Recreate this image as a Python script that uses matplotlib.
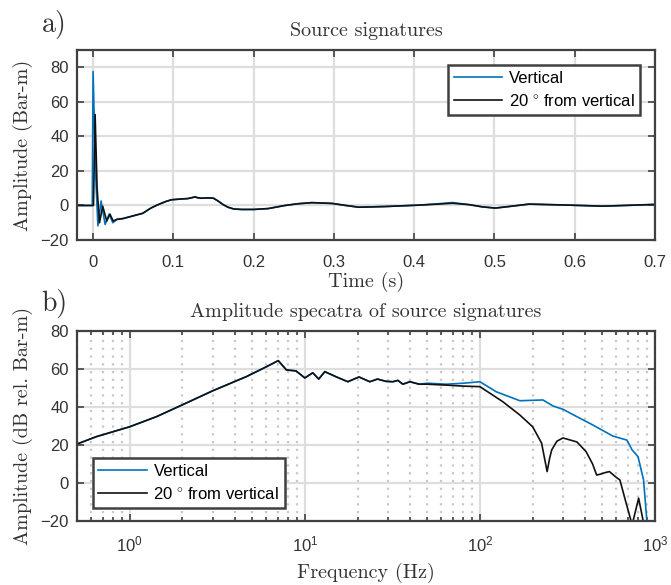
import numpy as np
import matplotlib
matplotlib.use('Agg')
import matplotlib.pyplot as plt

# source signatures (time domain)
t_vert = [-0.02, -0.001, 0.0, 0.003, 0.006, 0.01, 0.015, 0.02, 0.0246, 0.03, 0.037, 0.05,
          0.062, 0.072, 0.08, 0.09, 0.0975, 0.108, 0.118, 0.124, 0.127, 0.13, 0.135, 0.145,
          0.15, 0.156, 0.162, 0.168, 0.175, 0.185, 0.2, 0.218, 0.239, 0.255, 0.2725, 0.2975,
          0.315, 0.331, 0.364, 0.406, 0.43, 0.4475, 0.468, 0.485, 0.501, 0.52, 0.543, 0.593,
          0.635, 0.7]
a_vert = [0, 0, 77.5, 20, -11.8, 2.6, -11, -5, -10, -8, -7.6, -6,
          -4.5, -1.5, 0.3, 2.2, 3.3, 3.7, 4.0, 4.6, 5.0, 4.5, 4.2, 4.4,
          4.2, 2.5, 0.5, -1.0, -2.0, -2.3, -2.3, -1.8, 0, 1.0, 1.7, 1.2,
          0, -1, -0.6, 0.2, 1.0, 1.7, 0.5, -0.8, -1.5, -0.5, 0.8, 0.2,
          -0.4, 0.6]
t_20 = [-0.02, 0.0005, 0.0025, 0.005, 0.008, 0.012, 0.017, 0.021, 0.025, 0.03, 0.037, 0.05,
        0.062, 0.072, 0.08, 0.09, 0.0975, 0.108, 0.118, 0.124, 0.127, 0.13, 0.135, 0.145,
        0.15, 0.156, 0.162, 0.168, 0.175, 0.185, 0.2, 0.218, 0.239, 0.255, 0.2725, 0.2975,
        0.315, 0.331, 0.364, 0.406, 0.43, 0.4475, 0.468, 0.485, 0.501, 0.52, 0.543, 0.593,
        0.635, 0.7]
a_20 = [0, 0, 52.7, 10, -10, -0.4, -9, -5, -9, -8, -7.6, -6,
        -4.5, -1.5, 0.3, 2.2, 3.3, 3.7, 4.0, 4.6, 5.0, 4.5, 4.2, 4.4,
        4.2, 2.5, 0.5, -1.0, -2.0, -2.3, -2.3, -1.8, 0, 1.0, 1.6, 1.2,
        0, -1, -0.6, 0.2, 0.8, 1.3, 0.5, -0.8, -1.5, -0.5, 0.8, 0.2,
        -0.4, 0.6]

# amplitude spectra
f_vert = [0.5, 0.645, 1, 1.42, 1.93, 2.99, 4.64, 6.04, 7.05, 7.85, 8.9, 10, 11.1, 12, 13,
          15, 17.6, 20.4, 23.5, 26, 29, 31.8, 34, 36.3, 39.8, 45, 50, 64.5, 80, 100, 124,
          169, 229, 262, 298, 358, 442, 574, 690, 740, 800, 860, 900]
db_vert = [20.5, 24.4, 29.6, 34.9, 40.5, 48.6, 56, 61.2, 64.4, 59.5, 59, 55.3, 58, 54.7,
           58.6, 56, 53.3, 55.8, 53.3, 54.7, 53.5, 53.3, 54, 52, 53.3, 52, 52.5, 52, 52.5,
           53.3, 48, 43.3, 43.7, 40.5, 38.8, 34.9, 30.5, 24.7, 22.6, 17.4, 13.8, 1.6, -21]
f_20 = [0.5, 0.645, 1, 1.42, 1.93, 2.99, 4.64, 6.04, 7.05, 7.85, 8.9, 10, 11.1, 12, 13,
        15, 17.6, 20.4, 23.5, 26, 29, 31.8, 34, 36.3, 39.8, 45, 50, 64.5, 80, 100, 135,
        169, 200, 225, 235, 242, 250, 257, 275, 298, 358, 404, 440, 464, 490, 520, 549,
        600, 630, 684, 740, 806, 860, 880]
db_20 = [20.5, 24.4, 29.6, 34.9, 40.5, 48.6, 56, 61.2, 64.4, 59.5, 59, 55.3, 58, 54.7,
         58.6, 56, 53.3, 55.8, 53.3, 54.7, 53.5, 53.3, 54, 52, 53.3, 52, 52, 51.5, 51,
         50.7, 42.8, 35.8, 29.6, 21, 12, 6, 13, 17.4, 22, 23.7, 21.6, 16.5, 10, 4.2, 4.7,
         5.5, 6, 3, 1.6, -10.6, -22, -8, -21, -30]

blue = '#0072BD'
dark = '#404040'
serif = 'cmr10'

plt.rcParams['font.family'] = ['Liberation Sans', 'DejaVu Sans']
plt.rcParams['mathtext.fontset'] = 'custom'
plt.rcParams['mathtext.rm'] = 'Liberation Sans'
plt.rcParams['mathtext.it'] = 'Liberation Sans'

fig = plt.figure(figsize=(6.71, 5.85), dpi=100)
ax1 = fig.add_axes([0.1148, 0.5897, 0.8614, 0.3248])
ax2 = fig.add_axes([0.1148, 0.1094, 0.8614, 0.3248])


def style(ax):
    for s in ax.spines.values():
        s.set_color(dark)
        s.set_linewidth(1.6)
    ax.tick_params(which='both', direction='in', top=True, right=True,
                   colors=dark, labelcolor='#333333', labelsize=12, width=1.2)
    ax.tick_params(which='major', length=5, pad=6)
    ax.tick_params(which='minor', length=3)
    ax.set_axisbelow(True)


def legend(ax, **kw):
    leg = ax.legend(fontsize=12, fancybox=False, framealpha=1, edgecolor=dark,
                    borderpad=0.35, handlelength=2.9, handletextpad=0.4,
                    labelspacing=0.4, borderaxespad=0, **kw)
    leg.get_frame().set_linewidth(1.8)


lab20 = '20 $^{\\circ}$ from vertical'

ax1.plot(t_vert, a_vert, color=blue, lw=1.2, label='Vertical')
ax1.plot(t_20, a_20, color='#111111', lw=1.2, label=lab20)
ax1.set_xlim(-0.02, 0.7)
ax1.set_ylim(-20, 90)
ax1.set_xticks(np.arange(0, 0.71, 0.1))
ax1.set_xticklabels(['0', '0.1', '0.2', '0.3', '0.4', '0.5', '0.6', '0.7'])
ax1.set_yticks([-20, 0, 20, 40, 60, 80])
ax1.grid(True, color='#dedede', lw=1.6)
style(ax1)
ax1.tick_params(axis='x', which='major', pad=11)
ax1.set_title('Source signatures', family=serif, fontsize=14.5, pad=10, color='#333333')
ax1.set_xlabel('Time (s)', family=serif, fontsize=14.5, labelpad=1, color='#333333')
ax1.set_ylabel('Amplitude (Bar-m)', family=serif, fontsize=14.5, labelpad=5, color='#333333')
legend(ax1, loc='upper right', bbox_to_anchor=(0.974, 0.92))

ax2.plot(f_vert, db_vert, color=blue, lw=1.2, label='Vertical')
ax2.plot(f_20, db_20, color='#111111', lw=1.2, label=lab20)
ax2.set_xscale('log')
ax2.set_xlim(0.5, 1000)
ax2.set_ylim(-20, 80)
ax2.set_yticks([-20, 0, 20, 40, 60, 80])
ax2.grid(True, which='major', color='#dedede', lw=1.6)
ax2.grid(True, which='minor', axis='x', color='#c8c8c8', lw=1.6, ls=(0, (1, 2.5)))
style(ax2)
ax2.tick_params(axis='x', which='major', pad=10)
ax2.set_title('Amplitude specatra of source signatures', family=serif, fontsize=14.5,
              pad=10, color='#333333')
ax2.set_xlabel('Frequency (Hz)', family=serif, fontsize=14.5, labelpad=6, color='#333333')
ax2.set_ylabel('Amplitude (dB rel. Bar-m)', family=serif, fontsize=14.5, labelpad=5,
               color='#333333')
legend(ax2, loc='lower left', bbox_to_anchor=(0.027, 0.07))

fig.text(0.062, 0.945, 'a)', family=serif, fontsize=20, color='#333333')
fig.text(0.062, 0.468, 'b)', family=serif, fontsize=20, color='#333333')

fig.savefig('out.png', dpi=100)
